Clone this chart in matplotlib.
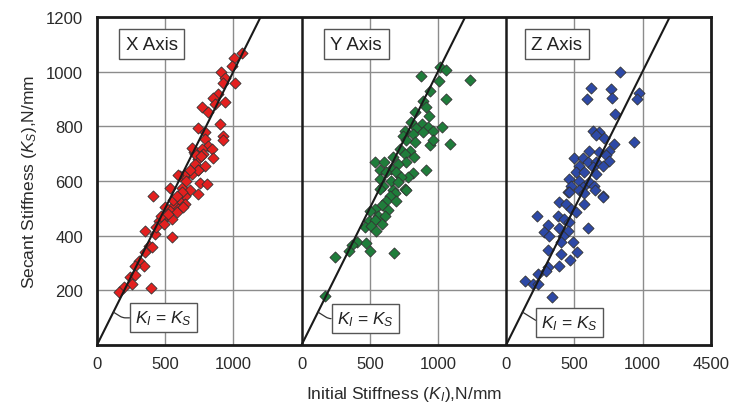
import numpy as np
import matplotlib
matplotlib.use("Agg")
import matplotlib.pyplot as plt

plt.rcParams['font.family'] = ['Liberation Sans', 'DejaVu Sans']
plt.rcParams['mathtext.fontset'] = 'custom'
plt.rcParams['mathtext.rm'] = 'Liberation Sans'
plt.rcParams['mathtext.it'] = 'Liberation Sans:italic'

# data (N/mm), one panel per axis
x_ki = [1061, 1007, 988, 910, 939, 1012, 927, 890, 854, 939, 866, 769, 817, 903, 739, 793,
        927, 927, 793, 817, 769, 842, 714, 780, 854, 744, 720, 793, 744, 659, 610, 695,
        744, 641, 597, 756, 805, 537, 622, 683, 744, 414, 646, 573, 610, 646, 561, 500,
        597, 537, 586, 634, 512, 549, 451, 488, 354, 427, 549, 378, 403, 354, 305, 341,
        280, 244, 280, 256, 195, 158, 397,
        680, 720, 650, 760, 700, 620, 560, 590, 470, 520, 430]
x_ks = [1068, 1049, 1020, 1000, 976, 959, 959, 918, 903, 890, 882, 870, 851, 807, 793, 778,
        766, 748, 754, 729, 717, 717, 705, 699, 683, 681, 662, 656, 640, 626, 619, 626,
        638, 620, 620, 593, 589, 573, 573, 565, 553, 544, 546, 534, 522, 516, 510, 504,
        498, 491, 486, 504, 473, 461, 455, 443, 418, 406, 394, 363, 357, 339, 308, 290,
        290, 248, 254, 223, 211, 193, 207,
        640, 700, 600, 690, 720, 560, 530, 545, 470, 480, 430]

y_ki = [1017, 1061, 878, 1237, 1007, 944, 1056, 890, 915, 829, 934, 805, 886, 1032, 927, 842,
        963, 756, 744, 817, 890, 1086, 939, 963, 829, 769, 720, 793, 756, 823, 671, 537,
        603, 769, 707, 659, 915, 573, 622, 695, 817, 778, 732, 573, 659, 707, 597, 761,
        671, 763, 683, 646, 573, 622, 690, 586, 537, 634, 500, 561, 610, 495, 537, 586,
        463, 512, 549, 403, 471, 373, 500, 349, 676, 244, 171]
y_ks = [1018, 1004, 982, 970, 967, 928, 900, 894, 872, 851, 838, 815, 809, 797, 797, 794,
        782, 784, 766, 772, 778, 735, 733, 748, 742, 750, 717, 711, 699, 687, 687, 668,
        668, 668, 662, 644, 640, 638, 632, 632, 628, 616, 614, 607, 601, 595, 583, 571,
        565, 567, 555, 546, 571, 528, 528, 510, 498, 494, 491, 473, 473, 455, 457, 443,
        433, 436, 418, 376, 372, 367, 345, 345, 336, 323, 180]

z_ki = [834, 622, 769, 976, 590, 773, 956, 800, 639, 678, 659, 720, 937, 793, 610, 756,
        500, 561, 683, 732, 598, 659, 756, 537, 634, 707, 512, 573, 659, 463, 537, 610,
        476, 561, 646, 451, 707, 463, 537, 573, 654, 707, 390, 439, 573, 476, 512, 224,
        378, 427, 463, 305, 598, 390, 451, 280, 317, 414, 488, 403, 305, 517, 403, 468,
        390, 305, 293, 231, 141, 195, 231, 334]
z_ks = [1000, 939, 937, 922, 900, 903, 900, 843, 784, 778, 768, 756, 742, 735, 711, 711,
        683, 683, 705, 693, 668, 668, 671, 656, 650, 656, 632, 632, 626, 607, 601, 595,
        583, 577, 583, 559, 546, 559, 565, 556, 567, 540, 522, 516, 516, 498, 486, 473,
        473, 461, 449, 439, 427, 427, 418, 412, 400, 400, 376, 376, 349, 339, 333, 311,
        288, 284, 272, 260, 235, 223, 223, 175]

panel_names = ['X Axis', 'Y Axis', 'Z Axis']
panel_colors = ['#e3201f', '#1f7d3b', '#2d49a6']
xtick_labels = ['0', '500', '1000', '0', '500', '1000', '0', '500', '1000', '4500']

width = 1500
fig = plt.figure(figsize=(7.35, 4.06), dpi=100)
ax = fig.add_axes([0.132, 0.148, 0.835, 0.808])

# gridlines
for k in range(3):
    for g in (500, 1000):
        ax.axvline(k * width + g, color='#8c8c8c', lw=1.0, zorder=1)
for g in range(200, 1200, 200):
    ax.axhline(g, color='#8c8c8c', lw=1.0, zorder=1)
ax.axvline(width, color='#1a1a1a', lw=1.8, zorder=4)
ax.axvline(2 * width, color='#1a1a1a', lw=1.8, zorder=4)

series = [(x_ki, x_ks), (y_ki, y_ks), (z_ki, z_ks)]
title_x = [400, 400, 370]
box_x = [488, 466, 466]
box_y = [99, 96, 82]
for k, (ki, ks) in enumerate(series):
    off = k * width
    ax.scatter(np.array(ki) + off, ks, marker='D', s=32, color=panel_colors[k],
               edgecolor='#333333', linewidth=0.6, zorder=3)
    ax.plot(np.array([0, 1200]) + off, [0, 1200], color='#1a1a1a', lw=1.5, zorder=4)
    ax.text(off + title_x[k], 1100, panel_names[k], fontsize=13.5, color='#222222',
            ha='center', va='center', zorder=5,
            bbox=dict(boxstyle='square,pad=0.35', fc='white', ec='#555555', lw=1.0))
    ax.annotate(r'$K_I$ = $K_S$', xy=(off + 120, 120), xytext=(off + box_x[k], box_y[k]),
                fontsize=12.5, color='#222222', ha='center', va='center', zorder=5,
                bbox=dict(boxstyle='square,pad=0.3', fc='white', ec='#555555', lw=1.0),
                arrowprops=dict(arrowstyle='-', color='#333333', lw=0.9, shrinkA=0, shrinkB=0,
                                connectionstyle='angle,angleA=0,angleB=-32,rad=3'))

ax.set_xlim(0, 3 * width)
ax.set_ylim(0, 1200)
ax.set_xticks(np.arange(0, 3 * width + 1, 500))
ax.set_xticklabels(xtick_labels)
ax.set_yticks(np.arange(200, 1201, 200))
ax.tick_params(axis='both', length=0, labelsize=12, labelcolor='#2a2a2a')
ax.tick_params(axis='x', pad=8)
ax.tick_params(axis='y', pad=10)
for s in ax.spines.values():
    s.set_linewidth(2.0)
    s.set_color('#1a1a1a')
    s.set_zorder(6)

ax.set_xlabel(r'Initial Stiffness ($K_I$),N/mm', fontsize=12.5, color='#2a2a2a', labelpad=9)
ax.set_ylabel(r'Secant Stiffness ($K_S$),N/mm', fontsize=12.5, color='#2a2a2a', labelpad=5)

fig.savefig('out.png', dpi=100)
